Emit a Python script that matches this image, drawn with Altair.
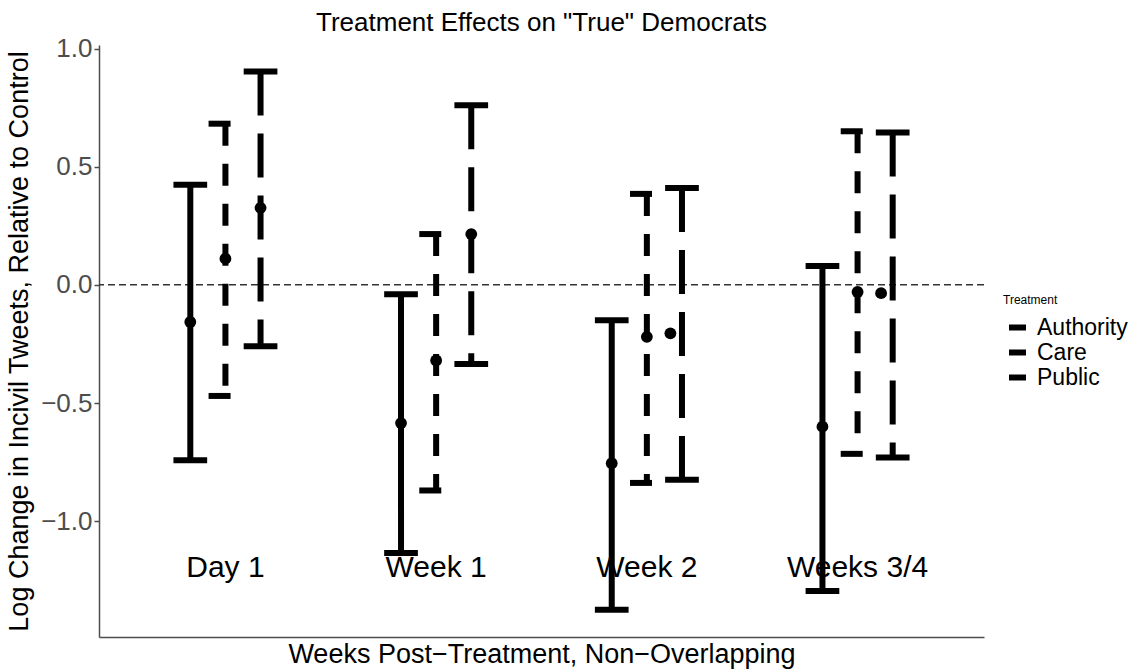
import altair as alt
import pandas as pd

# ---- data ----
groups = ["Day 1", "Week 1", "Week 2", "Weeks 3/4"]
treatments = ["Authority", "Care", "Public"]
dodge = [-1 / 6, 0.0, 1 / 6]

estimate_authority = [-0.157, -0.585, -0.755, -0.600]
estimate_care = [0.111, -0.320, -0.220, -0.030]
estimate_public = [0.326, 0.215, -0.205, -0.035]

lower_authority = [-0.742, -1.135, -1.375, -1.295]
lower_care = [-0.470, -0.870, -0.838, -0.715]
lower_public = [-0.260, -0.335, -0.825, -0.730]

upper_authority = [0.424, -0.040, -0.150, 0.080]
upper_care = [0.682, 0.215, 0.385, 0.650]
upper_public = [0.903, 0.760, 0.410, 0.645]

# horizontal shift of the point relative to its bar (dodge quirk in original)
point_shift_authority = [0.0, 0.0, 0.0, 0.0]
point_shift_care = [0.0, 0.0, 0.0, 0.0]
point_shift_public = [0.0, 0.0, -0.055, -0.055]

label_y = [-1.2, -1.2, -1.2, -1.2]
cap_width = 0.16

est = {"Authority": estimate_authority, "Care": estimate_care, "Public": estimate_public}
lo = {"Authority": lower_authority, "Care": lower_care, "Public": lower_public}
hi = {"Authority": upper_authority, "Care": upper_care, "Public": upper_public}
shift = {"Authority": point_shift_authority, "Care": point_shift_care, "Public": point_shift_public}

rows = []
for gi, g in enumerate(groups):
    for ti, t in enumerate(treatments):
        x = gi + 1 + dodge[ti]
        rows.append({
            "group": g, "treatment": t, "x": x,
            "xmin": x - cap_width / 2, "xmax": x + cap_width / 2,
            "px": x + shift[t][gi],
            "est": est[t][gi], "lo": lo[t][gi], "hi": hi[t][gi],
        })
df = pd.DataFrame(rows)
labels_df = pd.DataFrame({"x": [i + 1 for i in range(len(groups))], "y": label_y, "text": groups})
zero_df = pd.DataFrame({"y": [0.0]})

FONT = "Liberation Sans"
xscale = alt.Scale(domain=[0.4, 4.6], nice=False, zero=False)
yscale = alt.Scale(domain=[-1.49, 1.015], nice=False, zero=False)
dash_scale = alt.Scale(domain=treatments, range=[[1, 0], [22, 18], [44, 18]])

xaxis = alt.Axis(title="Weeks Post\u2212Treatment, Non\u2212Overlapping", ticks=False, labels=False,
                 grid=False, domainColor="#4D4D4D", domainWidth=1.5,
                 titleFontSize=27, titleFont=FONT, titleFontWeight="normal", titleColor="black",
                 titlePadding=4)
yaxis = alt.Axis(title="Log Change in Incivil Tweets, Relative to Control",
                 values=[-1.0, -0.5, 0.0, 0.5, 1.0], format=".1f", grid=False,
                 domainColor="#4D4D4D", domainWidth=1.5, tickColor="#4D4D4D", tickWidth=1.5,
                 tickSize=5, labelFontSize=26, labelFont=FONT, labelColor="#4D4D4D", labelPadding=2,
                 titleFontSize=27, titleFont=FONT, titleFontWeight="normal", titleColor="black",
                 titlePadding=7)

legend = alt.Legend(title="Treatment", orient="none", legendX=904, legendY=250,
                    symbolType="stroke", symbolStrokeWidth=6, symbolSize=289,
                    symbolStrokeColor="black", symbolOffset=3, labelOffset=8,
                    labelFontSize=23, labelFont=FONT, labelColor="black",
                    titleFontSize=12, titleFont=FONT, titleFontWeight="normal", titleColor="black",
                    titlePadding=9, rowPadding=0, padding=0)

base = alt.Chart(df)

zero_line = alt.Chart(zero_df).mark_rule(color="#333333", strokeWidth=1.5, strokeDash=[7, 4]).encode(
    y=alt.Y("y:Q", scale=yscale, axis=yaxis)
)

rule_kw = dict(color="black", strokeWidth=6, strokeCap="butt")
dash_enc = alt.StrokeDash("treatment:N", scale=dash_scale, legend=legend)

vertical = base.mark_rule(**rule_kw).encode(
    x=alt.X("x:Q", scale=xscale, axis=xaxis),
    y=alt.Y("hi:Q", scale=yscale, axis=yaxis),
    y2="lo:Q",
    strokeDash=dash_enc,
)
top_cap = base.mark_rule(**rule_kw).encode(
    x=alt.X("xmin:Q", scale=xscale, axis=xaxis),
    x2="xmax:Q",
    y=alt.Y("hi:Q", scale=yscale, axis=yaxis),
    strokeDash=dash_enc,
)
bottom_cap = base.mark_rule(**rule_kw).encode(
    x=alt.X("xmin:Q", scale=xscale, axis=xaxis),
    x2="xmax:Q",
    y=alt.Y("lo:Q", scale=yscale, axis=yaxis),
    strokeDash=dash_enc,
)
points = base.mark_circle(color="black", size=140, opacity=1).encode(
    x=alt.X("px:Q", scale=xscale, axis=xaxis),
    y=alt.Y("est:Q", scale=yscale, axis=yaxis),
)
texts = alt.Chart(labels_df).mark_text(fontSize=30, font=FONT, color="black", baseline="middle").encode(
    x=alt.X("x:Q", scale=xscale, axis=xaxis),
    y=alt.Y("y:Q", scale=yscale, axis=yaxis),
    text="text:N",
)

chart = alt.layer(zero_line, vertical, top_cap, bottom_cap, points, texts).properties(
    width=885, height=592,
    background="white",
    title=alt.Title('Treatment Effects on "True" Democrats', fontSize=26, font=FONT,
                    fontWeight="normal", color="black", anchor="middle", offset=0),
    autosize=alt.AutoSizeParams(type="none"),
    padding={"left": 99, "top": 45, "right": 162, "bottom": 32},
).configure_view(strokeWidth=0, stroke=None)

chart.save("out.html", embed_options={"renderer": "svg", "actions": False})
